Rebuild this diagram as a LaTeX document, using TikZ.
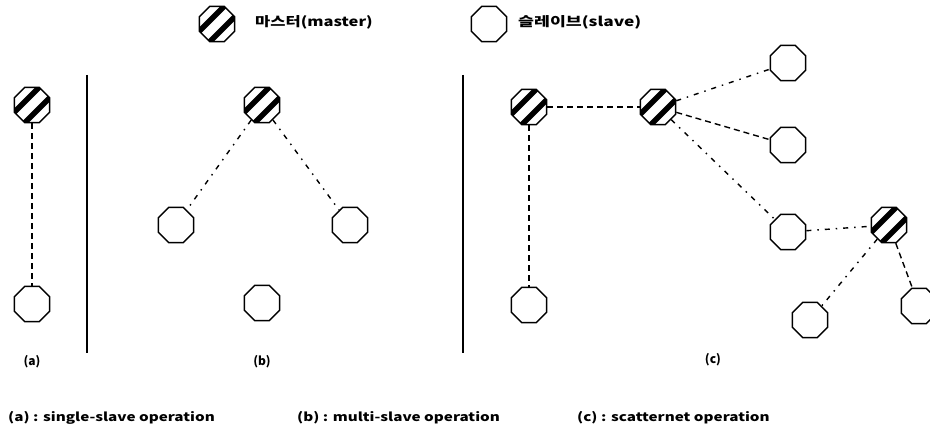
\documentclass[tikz,border=0pt]{standalone}
\usepackage{fontspec}
\usepackage{graphicx}
\setmainfont{Noto Sans CJK KR}
\usetikzlibrary{shapes.geometric,calc}
% wide lettering for the legend and captions
\newcommand{\widetext}[2]{\scalebox{#1}[1]{#2}}
\begin{document}
\begin{tikzpicture}[x=1pt,y=-1pt,
  dev/.style={regular polygon, regular polygon sides=8, minimum size=38pt,
    inner sep=0pt, draw, line width=1.5pt},
  slave/.style={dev, fill=white},
  master/.style={dev, fill=white, path picture={
      \foreach \k in {-1,1}
        \draw[line width=5.5pt]
          ($(path picture bounding box.center)+(\k*5.3,\k*5.3)+(-30,30)$) --
          ($(path picture bounding box.center)+(\k*5.3,\k*5.3)+(30,-30)$);}},
  dlink/.style={line width=1.4pt, dash pattern=on 6pt off 4pt},
  dotlink/.style={line width=1.4pt, dash pattern=on 5pt off 6pt on 1.5pt off 6pt},
  divider/.style={line width=1.6pt},
  tag/.style={font=\bfseries\fontsize{12}{13}\selectfont, inner sep=0pt},
  caption/.style={font=\bfseries\fontsize{12}{13}\selectfont, inner sep=0pt, anchor=west},
  legendtext/.style={font=\bfseries\fontsize{13}{14}\selectfont, inner sep=0pt, anchor=west}
]
\useasboundingbox (0,0) rectangle (930,430);

% legend
\node[master] (lm) at (217,24) {};
\node[legendtext] (lmt) at (255,22) {\widetext{1.27}{마스터(master)}};
\node[slave] (ls) at (489,24) {};
\node[legendtext] (lst) at (518,22) {\widetext{1.33}{슬레이브(slave)}};

% dividers
\coordinate (d1t) at (87,75);  \coordinate (d1b) at (87,353);
\coordinate (d2t) at (463,75); \coordinate (d2b) at (463,353);
\draw[divider] (d1t) -- (d1b);
\draw[divider] (d2t) -- (d2b);

% (a) single slave
\node[master] (am) at (32,105) {};
\node[slave] (as) at (32,304) {};
\draw[dlink] (am) -- (as);
\node[tag] (at) at (32,362) {(a)};

% (b) multi slave
\node[master] (bm) at (262,105) {};
\node[slave] (bs1) at (176,225) {};
\node[slave] (bs2) at (350,225) {};
\node[slave] (bs3) at (262,303) {};
\draw[dotlink] (bm) -- (bs1);
\draw[dotlink] (bm) -- (bs2);
\node[tag] (bt) at (262,362) {(b)};

% (c) scatternet
\node[master] (cm1) at (529,107) {};
\node[slave] (cs0) at (529,305) {};
\node[master] (cm2) at (658,107) {};
\node[slave] (cs1) at (788,63) {};
\node[slave] (cs2) at (788,145) {};
\node[slave] (cs3) at (788,232) {};
\node[master] (cm3) at (889,225) {};
\node[slave] (cs4) at (810,320) {};
\node[slave] (cs5) at (919,306) {};
\draw[dlink] (cm1) -- (cs0);
\draw[dlink] (cm1) -- (cm2);
\draw[dotlink] (cm2) -- (cs1);
\draw[dlink] (cm2) -- (cs2);
\draw[dotlink] (cm2) -- (cs3);
\draw[dotlink] (cs3) -- (cm3);
\draw[dotlink] (cm3) -- (cs4);
\draw[dlink] (cm3) -- (cs5);
\node[tag] (ct) at (713,360) {(c)};

% captions
\node[caption] (ca) at (8,418) {\widetext{1.27}{(a) : single-slave operation}};
\node[caption] (cb) at (297,418) {\widetext{1.27}{(b) : multi-slave operation}};
\node[caption] (cc) at (577,418) {\widetext{1.27}{(c) : scatternet operation}};
\end{tikzpicture}
\end{document}
